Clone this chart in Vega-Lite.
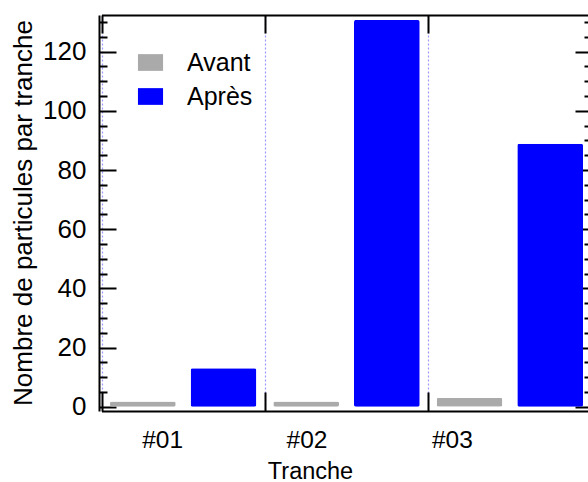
{
  "$schema": "https://vega.github.io/schema/vega-lite/v6.json",
  "width": 489,
  "height": 396,
  "autosize": {"type": "none"},
  "padding": {"left": 99, "top": 15, "right": 0, "bottom": 71},
  "data": {
    "values": [
      {"tranche": "#01", "groupe": "Avant", "n": 1.8},
      {"tranche": "#01", "groupe": "Après", "n": 13.0},
      {"tranche": "#02", "groupe": "Avant", "n": 1.8},
      {"tranche": "#02", "groupe": "Après", "n": 130.7},
      {"tranche": "#03", "groupe": "Avant", "n": 3.0},
      {"tranche": "#03", "groupe": "Après", "n": 88.9}
    ]
  },
  "config": {
    "font": "Liberation Sans",
    "view": {"stroke": null},
    "axis": {
      "domainColor": "black", "domainWidth": 2, "tickColor": "black", "tickWidth": 2,
      "labelColor": "black", "titleColor": "black", "labelFont": "Liberation Sans", "titleFont": "Liberation Sans",
      "labelFontSize": 24, "titleFontSize": 24, "titleFontWeight": "normal"
    },
    "legend": {"labelFont": "Liberation Sans", "labelFontSize": 25, "labelColor": "black"}
  },
  "resolve": {"axis": {"x": "independent", "y": "independent"}},
  "layer": [
    {
      "mark": {"type": "bar", "cornerRadius": 2},
      "encoding": {
        "x": {
          "field": "tranche", "type": "nominal", "sort": ["#01", "#02", "#03"],
          "scale": {"domain": ["#01", "#02", "#03"], "range": [2.5, 492.5], "paddingInner": 0, "paddingOuter": 0},
          "axis": {
            "orient": "bottom", "title": "Tranche", "tickBand": "extent", "tickSize": -19,
            "grid": true, "gridDash": [2, 2], "gridColor": "#9a9aff", "gridWidth": 1.2,
            "labelPadding": 36, "labelAngle": 0, "labelFontSize": 24.5,
            "labelOffset": {"condition": [{"test": "datum.value === '#01'", "value": -21}, {"test": "datum.value === '#02'", "value": -40}], "value": -58},
            "titleFontSize": 23.5,
            "titleX": 211, "titleY": 67, "titleBaseline": "alphabetic", "titleAlign": "center", "titleAnchor": null
          }
        },
        "xOffset": {
          "field": "groupe", "type": "nominal", "sort": ["Avant", "Après"],
          "scale": {"domain": ["Avant", "Après"], "paddingInner": 0.185, "paddingOuter": 0.105}
        },
        "y": {
          "field": "n", "type": "quantitative",
          "scale": {"domain": [-1.45, 132.4], "nice": false, "zero": false},
          "axis": {
            "orient": "left", "title": "Nombre de particules par tranche", "grid": false,
            "values": [0, 5, 10, 15, 20, 25, 30, 35, 40, 45, 50, 55, 60, 65, 70, 75, 80, 85, 90, 95, 100, 105, 110, 115, 120, 125, 130],
            "labelExpr": "datum.value % 20 === 0 ? datum.label : ''",
            "tickSize": {"condition": {"test": "datum.value % 20 === 0", "value": -17}, "value": -8},
            "labelPadding": 30, "labelFontSize": 26,
            "titleFontSize": 26,
            "titleX": -68, "titleY": 197.5, "titleBaseline": "alphabetic", "titleAlign": "center", "titleAngle": 270, "titleAnchor": null
          }
        },
        "color": {
          "field": "groupe", "type": "nominal", "sort": ["Avant", "Après"],
          "scale": {"domain": ["Avant", "Après"], "range": ["#aaaaaa", "#0000ff"]},
          "legend": {
            "title": null, "orient": "none", "legendX": 39, "legendY": 35,
            "symbolType": "M-1.5,-1H1.5V1H-1.5Z", "symbolSize": 280, "symbolStrokeWidth": 0,
            "labelOffset": 24, "rowPadding": 8
          }
        }
      }
    },
    {
      "mark": {"type": "bar", "opacity": 0},
      "encoding": {
        "x": {
          "field": "tranche", "type": "nominal", "sort": ["#01", "#02", "#03"],
          "axis": {"orient": "top", "title": null, "labels": false, "tickBand": "extent", "tickSize": -18, "grid": false}
        },
        "y": {
          "field": "n", "type": "quantitative",
          "axis": {
            "orient": "right", "title": null, "labels": false, "grid": false, "offset": 4,
            "values": [0, 5, 10, 15, 20, 25, 30, 35, 40, 45, 50, 55, 60, 65, 70, 75, 80, 85, 90, 95, 100, 105, 110, 115, 120, 125, 130],
            "tickSize": {"condition": {"test": "datum.value % 20 === 0", "value": -17}, "value": -8}
          }
        }
      }
    }
  ]
}
